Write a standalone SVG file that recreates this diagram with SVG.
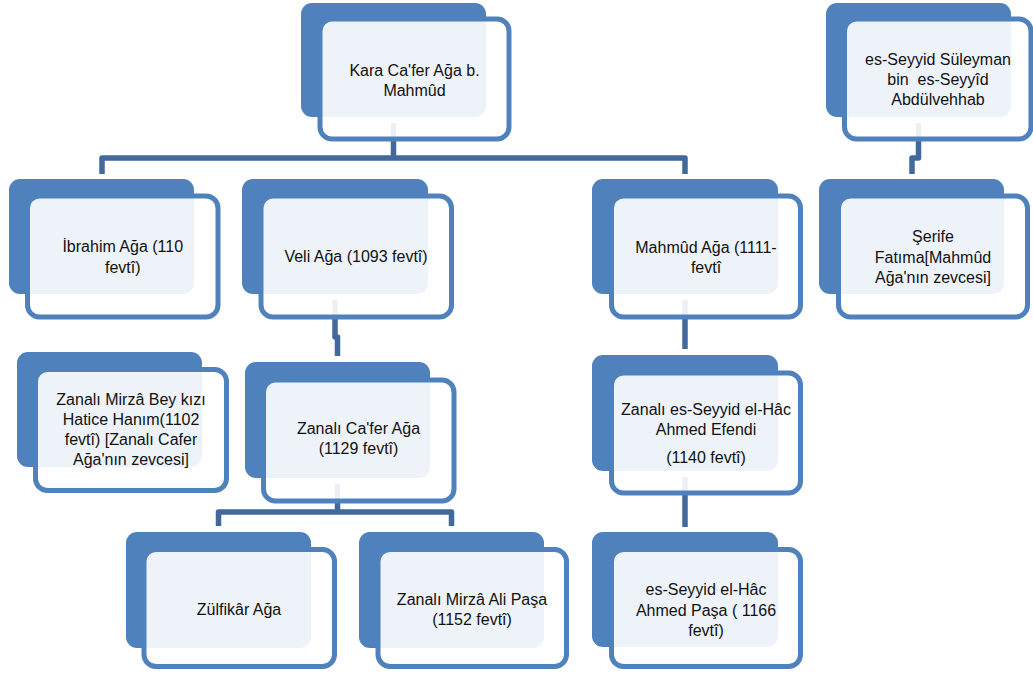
<svg xmlns="http://www.w3.org/2000/svg" width="1033" height="679" viewBox="0 0 1033 679">
<style>
.back{fill:#4F81BD}
.front{fill:#ffffff;fill-opacity:0.9;stroke:#4F81BD;stroke-width:5}
.conn{fill:none;stroke:#41699B;stroke-width:5.5;stroke-linejoin:round}
text{font-family:"Liberation Sans",Arial,sans-serif;font-size:16px;fill:#111111;text-anchor:middle;white-space:pre}
</style>
<rect width="1033" height="679" fill="#ffffff"/>
<g id="connectors">
<path class="conn" d="M393.5 123 V158"/>
<path class="conn" d="M102 174 V158 H685 V174"/>
<path class="conn" d="M918.5 123 V158 H912 V174"/>
<path class="conn" d="M335 300 V337 H337.5 V356"/>
<path class="conn" d="M337.5 484 V512"/>
<path class="conn" d="M218.5 526 V512 H451.5 V526"/>
<path class="conn" d="M685 300 V349"/>
<path class="conn" d="M685 477 V527"/>
</g>
<g id="n-kara">
<rect class="back" x="301" y="3" width="185" height="114" rx="11"/>
<rect class="front" x="320" y="19" width="189" height="120" rx="12"/>
<text x="414.5" y="76">Kara Ca'fer Ağa b.</text>
<text x="414.5" y="96">Mahmûd</text>
</g>
<g id="n-suleyman">
<rect class="back" x="826" y="3" width="185" height="114" rx="11"/>
<rect class="front" x="844.5" y="19" width="186.5" height="120" rx="12"/>
<text x="938" y="65">es-Seyyid Süleyman</text>
<text x="938" y="85">bin  es-Seyyîd</text>
<text x="938" y="105">Abdülvehhab</text>
</g>
<g id="n-ibrahim">
<rect class="back" x="9" y="179" width="185" height="115" rx="11"/>
<rect class="front" x="27.5" y="196" width="190.5" height="121" rx="12"/>
<text x="122.75" y="252">İbrahim Ağa (110</text>
<text x="122.75" y="273">fevtî)</text>
</g>
<g id="n-veli">
<rect class="back" x="242" y="179" width="186" height="115" rx="11"/>
<rect class="front" x="261" y="196" width="190.5" height="121" rx="12"/>
<text x="356" y="262">Veli Ağa (1093 fevtî)</text>
</g>
<g id="n-mahmud">
<rect class="back" x="592" y="179" width="186" height="115" rx="11"/>
<rect class="front" x="611.5" y="196" width="189" height="121" rx="12"/>
<text x="706" y="253">Mahmûd Ağa (1111-</text>
<text x="706" y="273">fevtî</text>
</g>
<g id="n-serife">
<rect class="back" x="819" y="179" width="185" height="115" rx="11"/>
<rect class="front" x="838.5" y="196" width="189" height="121" rx="12"/>
<text x="933" y="242">Şerife</text>
<text x="933" y="263">Fatıma[Mahmûd</text>
<text x="933" y="283">Ağa'nın zevcesi]</text>
</g>
<g id="n-hatice">
<rect class="back" x="17" y="352" width="185" height="115" rx="11"/>
<rect class="front" x="35.5" y="369.5" width="191" height="121" rx="12"/>
<text x="131" y="405">Zanalı Mirzâ Bey kızı</text>
<text x="131" y="425">Hatice Hanım(1102</text>
<text x="131" y="445">fevtî) [Zanalı Cafer</text>
<text x="131" y="465">Ağa'nın zevcesi]</text>
</g>
<g id="n-zanali-cafer">
<rect class="back" x="245" y="362" width="185" height="116" rx="11"/>
<rect class="front" x="263.5" y="380" width="190.5" height="121" rx="12"/>
<text x="358.5" y="434">Zanalı Ca'fer Ağa</text>
<text x="358.5" y="454">(1129 fevtî)</text>
</g>
<g id="n-ahmed-efendi">
<rect class="back" x="592" y="355" width="186" height="116" rx="11"/>
<rect class="front" x="611.5" y="373" width="189" height="120" rx="12"/>
<text x="706" y="415">Zanalı es-Seyyid el-Hâc</text>
<text x="706" y="435">Ahmed Efendi</text>
<text x="706" y="463">(1140 fevtî)</text>
</g>
<g id="n-zulfikar">
<rect class="back" x="126" y="532" width="185" height="116" rx="11"/>
<rect class="front" x="144" y="549.5" width="190.5" height="117" rx="12"/>
<text x="239" y="615">Zülfikâr Ağa</text>
</g>
<g id="n-ali-pasa">
<rect class="back" x="359" y="532" width="185" height="116" rx="11"/>
<rect class="front" x="378" y="549.5" width="188.5" height="117" rx="12"/>
<text x="472" y="605">Zanalı Mirzâ Ali Paşa</text>
<text x="472" y="625">(1152 fevtî)</text>
</g>
<g id="n-ahmed-pasa">
<rect class="back" x="592" y="532" width="186" height="115" rx="11"/>
<rect class="front" x="611.5" y="549.5" width="189" height="117" rx="12"/>
<text x="706" y="595">es-Seyyid el-Hâc</text>
<text x="706" y="616">Ahmed Paşa ( 1166</text>
<text x="706" y="636">fevtî)</text>
</g>
</svg>
